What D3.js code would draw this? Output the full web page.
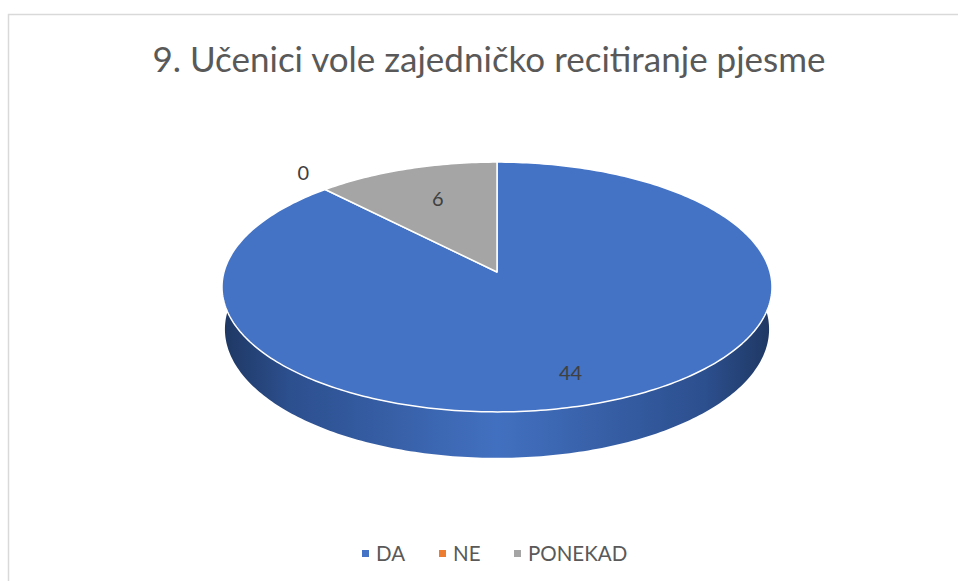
<html>

<head>
  <meta charset="utf-8">
  <script src="https://d3js.org/d3.v7.min.js"></script>
  <style>
    body {
      margin: 0;
      background: white;
    }

    .cTitle {
      fill: #595959;
      font-family: Lato, "Open Sans", sans-serif;
      font-size: 35px;
    }

    .dLabel {
      fill: #404040;
      font-family: Lato, sans-serif;
      font-size: 20px;
    }

    .legendText {
      fill: #595959;
      font-family: Lato, sans-serif;
      font-size: 20.5px;
    }
  </style>
</head>

<body>
  <svg id="pieVis" width="958" height="581"></svg>
  <script>
    // data
    const titleText = "9. Učenici vole zajedničko recitiranje pjesme";
    const categories = ["DA", "NE", "PONEKAD"];
    const answers = [44, 0, 6];
    const colorList = ["#4472C4", "#ED7D31", "#A5A5A5"];

    let svg = d3.select("svg#pieVis");
    let w = +svg.attr("width");
    let h = +svg.attr("height");

    // chart frame (only top and left edges are in view)
    svg.append("rect")
      .attr("x", 8.5).attr("y", 14.5)
      .attr("width", w + 50).attr("height", h + 50)
      .attr("fill", "white")
      .attr("stroke", "#d9d9d9")
      .attr("stroke-width", 1.5);

    // 3d pie projection settings
    let cx = 497, cy = 272;     // projected center of the top face
    let A = 273;                // horizontal radius on screen
    let tilt = 26.8 * Math.PI / 180;
    let persp = 0.1345;         // radius / camera distance
    let depth = 0.174;          // thickness relative to radius

    // theta clockwise from 12 o'clock, r and z relative to radius
    function project(theta, r, z) {
      let X = r * Math.sin(theta);
      let Zd = r * Math.cos(theta);
      let yc = z * Math.cos(tilt) + Zd * Math.sin(tilt);
      let zc = 1 + persp * (Zd * Math.cos(tilt) - z * Math.sin(tilt));
      return [cx + A * X / zc, cy - A * yc / zc];
    }

    let pie = d3.pie().sort(null).value(d => d).startAngle(0).endAngle(2 * Math.PI);
    let arcs = pie(answers);

    let line = d3.line();

    // side wall gradient
    let defs = svg.append("defs");
    let grad = defs.append("linearGradient")
      .attr("id", "sideGrad")
      .attr("gradientUnits", "userSpaceOnUse")
      .attr("x1", cx - A).attr("x2", cx + A)
      .attr("y1", 0).attr("y2", 0);
    grad.append("stop").attr("offset", "0%").attr("stop-color", "#1f3864");
    grad.append("stop").attr("offset", "12%").attr("stop-color", "#2c4f8e");
    grad.append("stop").attr("offset", "50%").attr("stop-color", "#4270c0");
    grad.append("stop").attr("offset", "88%").attr("stop-color", "#2c4f8e");
    grad.append("stop").attr("offset", "100%").attr("stop-color", "#1f3864");

    let steps = 240;

    // side wall: front half between top and bottom rims
    let sidePts = [];
    for (let i = 0; i <= steps; i++) {
      let t = Math.PI / 2 - 0.35 + (Math.PI + 0.7) * i / steps;
      sidePts.push(project(t, 1, 0));
    }
    for (let i = steps; i >= 0; i--) {
      let t = Math.PI / 2 - 0.35 + (Math.PI + 0.7) * i / steps;
      sidePts.push(project(t, 1, -depth));
    }
    svg.append("path")
      .attr("d", line(sidePts) + "Z")
      .attr("fill", "url(#sideGrad)");

    // top face slices
    let topG = svg.append("g");
    arcs.forEach((a, i) => {
      if (a.endAngle - a.startAngle <= 0) return;
      let pts = [project(0, 0, 0)];
      let n = Math.max(2, Math.ceil((a.endAngle - a.startAngle) / (2 * Math.PI) * 360));
      for (let j = 0; j <= n; j++) {
        let t = a.startAngle + (a.endAngle - a.startAngle) * j / n;
        pts.push(project(t, 1, 0));
      }
      topG.append("path")
        .attr("d", line(pts) + "Z")
        .attr("fill", colorList[i])
        .attr("stroke", "white")
        .attr("stroke-width", 1.5)
        .attr("stroke-linejoin", "round");
    });

    // data labels
    arcs.forEach((a, i) => {
      let mid = (a.startAngle + a.endAngle) / 2;
      let pos;
      if (a.value == 0) {
        pos = project(mid, 1.14, 0);
      } else if (Math.cos(mid) < 0) {
        pos = project(mid, 0.68, -depth / 2);
      } else {
        pos = project(mid, 0.63, 0);
      }
      svg.append("text")
        .attr("class", "dLabel")
        .attr("x", pos[0])
        .attr("y", pos[1] - 7)
        .style("text-anchor", "middle")
        .style("dominant-baseline", "central")
        .text(a.value);
    });

    // title
    svg.append("text")
      .attr("class", "cTitle")
      .attr("x", 489)
      .attr("y", 72)
      .style("text-anchor", "middle")
      .text(titleText);

    // legend
    let legendX = [362, 439, 514];
    let legendG = svg.append("g");
    categories.forEach((c, i) => {
      legendG.append("rect")
        .attr("x", legendX[i])
        .attr("y", 550)
        .attr("width", 7)
        .attr("height", 7)
        .attr("fill", colorList[i]);
      legendG.append("text")
        .attr("class", "legendText")
        .attr("x", legendX[i] + 14)
        .attr("y", 553)
        .style("dominant-baseline", "central")
        .text(c);
    });
  </script>
</body>

</html>
